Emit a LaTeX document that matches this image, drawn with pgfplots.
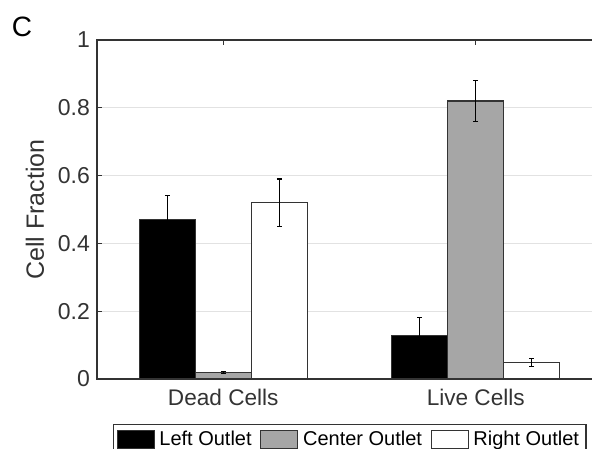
\documentclass[border=0pt]{standalone}
\usepackage{pgfplots}
\pgfplotsset{compat=1.18}
\usepackage{fontspec}
\setmainfont{Liberation Sans}
\definecolor{axgray}{HTML}{333333}
\definecolor{gridgray}{HTML}{E2E2E2}
\definecolor{bargray}{HTML}{A6A6A6}
\begin{document}
\begin{tikzpicture}[x=1pt,y=1pt]
\useasboundingbox (0,0) rectangle (296,224);
\clip (0,0) rectangle (296,224);
\node[font=\fontsize{14}{16}\selectfont, text=black] at (11,210.5) {C};
\begin{axis}[
  at={(48.5pt,34.5pt)}, anchor=south west,
  scale only axis, width=252.5pt, height=169.5pt,
  xmin=0.5, xmax=2.5, ymin=0, ymax=1,
  ybar=0pt, bar width=28pt,
  xtick={1,2}, xticklabels={Dead Cells, Live Cells},
  ytick={0,0.2,0.4,0.6,0.8,1},
  yticklabels={0,0.2,0.4,0.6,0.8,1},
  ymajorgrids, grid style={gridgray, line width=0.6pt},
  tick align=inside, major tick length=2.5pt,
  tick style={axgray, line width=0.5pt},
  axis line style={axgray, line width=0.6pt},
  ticklabel style={font=\fontsize{11.5}{13}\selectfont, text=axgray},
  xticklabel style={font=\fontsize{11.3}{13}\selectfont, text=axgray, yshift=-1.5pt},
  /pgf/number format/assume math mode=true,
  ylabel={Cell Fraction},
  ylabel style={font=\fontsize{12.5}{14}\selectfont, text=axgray},
  legend columns=3,
  legend style={at={(0.0317,-0.1327)}, anchor=north west, draw=axgray, line width=0.6pt,
    font=\fontsize{10}{12}\selectfont, text=black, inner xsep=1.5pt, inner ysep=1pt,
    /tikz/every odd column/.append style={column sep=0.3pt},
    /tikz/every even column/.append style={column sep=2.3pt}},
  legend image code/.code={\draw[#1] (0pt,-4.6pt) rectangle (18.5pt,4.6pt);},
  error bars/y dir=both, error bars/y explicit,
  error bars/error bar style={black, line width=0.6pt},
  error bars/error mark options={rotate=90, mark size=1.2pt, black, line width=0.6pt},
]
\addplot[fill=black, draw=axgray, line width=0.6pt] coordinates {(1,0.471) +- (0,0.071) (2,0.129) +- (0,0.053)};
\addplot[fill=bargray, draw=axgray, line width=0.6pt] coordinates {(1,0.019) +- (0,0.002) (2,0.820) +- (0,0.061)};
\addplot[fill=white, draw=axgray, line width=0.6pt] coordinates {(1,0.520) +- (0,0.070) (2,0.049) +- (0,0.011)};
\legend{Left Outlet, Center Outlet, Right Outlet}
\end{axis}
\end{tikzpicture}
\end{document}
